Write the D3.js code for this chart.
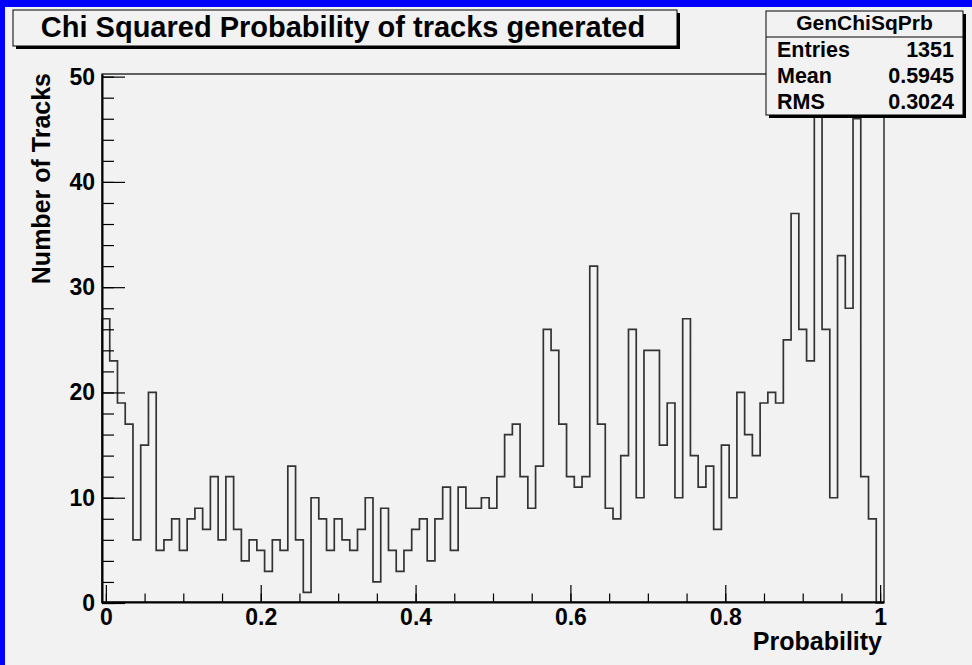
<!DOCTYPE html>
<html>
<head>
<meta charset="utf-8">
<script src="https://cdn.jsdelivr.net/npm/d3@7"></script>
<style>
  body { margin: 0; background: #f2f2f2; }
  svg { display: block; font-family: "Liberation Sans", Arial, sans-serif; font-weight: bold; }
</style>
</head>
<body>
<svg id="chart" width="972" height="665"></svg>
<script>
// histogram bins, 0.01 wide, first bin centred on 0
const counts = [
  27, 23, 19, 17, 6, 15, 20, 5, 6, 8,
  5, 8, 9, 7, 12, 6, 12, 7, 4, 6,
  5, 3, 6, 5, 13, 6, 1, 10, 8, 5,
  8, 6, 5, 7, 10, 2, 9, 5, 3, 5,
  7, 8, 4, 8, 11, 5, 11, 9, 9, 10,
  9, 12, 16, 17, 12, 9, 13, 26, 24, 17,
  12, 11, 12, 32, 17, 9, 8, 14, 26, 10,
  24, 24, 15, 19, 10, 27, 14, 11, 13, 7,
  15, 10, 20, 16, 14, 19, 20, 19, 25, 37,
  26, 23, 48, 26, 10, 33, 28, 46, 12, 8,
  0
];
const binLow = -0.005;
const binWidth = 0.01;

const xTicks = [0, 0.2, 0.4, 0.6, 0.8, 1];
const xMinor = d3.range(0, 21).map(i => i * 0.05);
const yTicks = [0, 10, 20, 30, 40, 50];
const yMinor = d3.range(0, 26).map(i => i * 2);

const title = "Chi Squared Probability of tracks generated";
const xTitle = "Probability";
const yTitle = "Number of Tracks";
const statsName = "GenChiSqPrb";
const statsLabels = ["Entries", "Mean", "RMS"];
const statsValues = ["1351", "0.5945", "0.3024"];

const svg = d3.select("#chart");

// canvas + blue border
svg.append("rect").attr("width", 972).attr("height", 665).attr("fill", "#f2f2f2");
svg.append("rect").attr("x", 0).attr("y", 0).attr("width", 972).attr("height", 7).attr("fill", "#0000ff");
svg.append("rect").attr("x", 0).attr("y", 0).attr("width", 5).attr("height", 665).attr("fill", "#0000ff");

const frame = {left: 102, right: 884, top: 74, bottom: 602};

const x = d3.scaleLinear()
  .domain([binLow, binLow + counts.length * binWidth])
  .range([frame.left, frame.right]);

const y = d3.scaleLinear()
  .domain([0, 50.25])
  .range([frame.bottom + 1, frame.top]);

// frame
svg.append("rect")
  .attr("x", frame.left).attr("y", frame.top)
  .attr("width", frame.right - frame.left).attr("height", frame.bottom - frame.top)
  .attr("fill", "none").attr("stroke", "#000").attr("stroke-width", 1.2);

// histogram outline
let p = d3.path();
p.moveTo(x(binLow), y(0));
counts.forEach((c, i) => {
  const x0 = binLow + i * binWidth;
  p.lineTo(x(x0), y(c));
  p.lineTo(x(x0 + binWidth), y(c));
});
p.lineTo(x(binLow + counts.length * binWidth), y(0));

svg.append("path")
  .attr("d", p.toString())
  .attr("fill", "none")
  .attr("stroke", "#333")
  .attr("stroke-width", 1.7);

// x axis
svg.append("g")
  .attr("transform", `translate(0,${frame.bottom})`)
  .call(d3.axisBottom(x).tickValues(xTicks).tickSize(-17).tickSizeOuter(0).tickPadding(7)
    .tickFormat(d => String(d)));
svg.append("g")
  .attr("transform", `translate(0,${frame.bottom})`)
  .call(d3.axisBottom(x).tickValues(xMinor).tickSize(-8.5).tickSizeOuter(0).tickFormat(""))
  .select(".domain").remove();

// y axis
svg.append("g")
  .attr("transform", `translate(${frame.left},0)`)
  .call(d3.axisLeft(y).tickValues(yTicks).tickSize(-23).tickSizeOuter(0).tickPadding(7));
svg.append("g")
  .attr("transform", `translate(${frame.left},0)`)
  .call(d3.axisLeft(y).tickValues(yMinor).tickSize(-12).tickSizeOuter(0).tickFormat(""))
  .select(".domain").remove();

svg.selectAll(".tick line").attr("stroke", "#000").attr("stroke-width", 1.2);
svg.selectAll(".domain").attr("stroke", "#000").attr("stroke-width", 2);
svg.selectAll(".tick text")
  .attr("fill", "#000")
  .style("font-size", "23px")
  .style("font-family", "'Liberation Sans', Arial, sans-serif")
  .style("font-weight", "bold");

// axis titles
svg.append("text")
  .attr("x", 882).attr("y", 650)
  .attr("text-anchor", "end")
  .style("font-size", "25px")
  .text(xTitle);

svg.append("text")
  .attr("transform", "translate(50,73) rotate(-90)")
  .attr("text-anchor", "end")
  .style("font-size", "25px")
  .text(yTitle);

// title box
const tb = {x: 13, y: 10, w: 664, h: 36};
svg.append("rect").attr("x", tb.x + 3).attr("y", tb.y + 3).attr("width", tb.w).attr("height", tb.h).attr("fill", "#000");
svg.append("rect").attr("x", tb.x).attr("y", tb.y).attr("width", tb.w).attr("height", tb.h)
  .attr("fill", "#f2f2f2").attr("stroke", "#000").attr("stroke-width", 1);
svg.append("text")
  .attr("x", 343).attr("y", 37)
  .attr("text-anchor", "middle")
  .style("font-size", "29px")
  .text(title);

// stats box
const sb = {x: 766, y: 11, w: 197, h: 104};
svg.append("rect").attr("x", sb.x + 3).attr("y", sb.y + 3).attr("width", sb.w).attr("height", sb.h).attr("fill", "#000");
svg.append("rect").attr("x", sb.x).attr("y", sb.y).attr("width", sb.w).attr("height", sb.h)
  .attr("fill", "#f2f2f2").attr("stroke", "#000").attr("stroke-width", 1);
svg.append("line").attr("x1", sb.x).attr("x2", sb.x + sb.w).attr("y1", 37).attr("y2", 37)
  .attr("stroke", "#000").attr("stroke-width", 1);
svg.append("text")
  .attr("x", sb.x + sb.w / 2).attr("y", 30)
  .attr("text-anchor", "middle")
  .style("font-size", "21px")
  .text(statsName);

const rowY = d3.scalePoint().domain(statsLabels).range([57, 109]);
svg.selectAll(".slab").data(statsLabels).join("text")
  .attr("x", 777).attr("y", d => rowY(d))
  .style("font-size", "21.5px")
  .text(d => d);
svg.selectAll(".sval").data(statsValues).join("text")
  .attr("x", 954).attr("y", (d, i) => rowY(statsLabels[i]))
  .attr("text-anchor", "end")
  .style("font-size", "21.5px")
  .text(d => d);
</script>
</body>
</html>
